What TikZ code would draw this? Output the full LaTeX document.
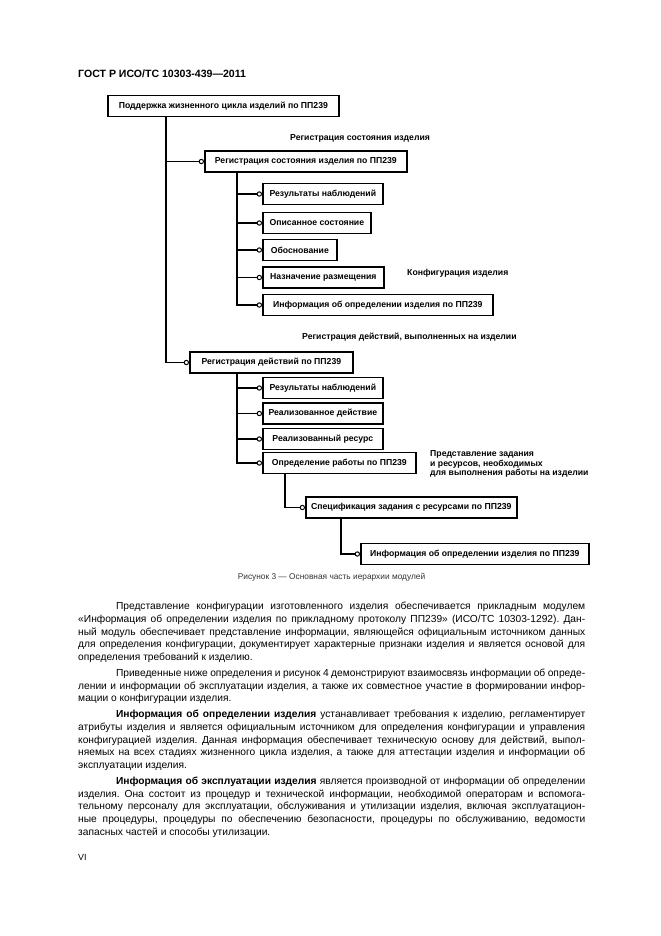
\documentclass[tikz,border=0pt]{standalone}
\usepackage{fontspec}
\setmainfont{Liberation Sans}
\usetikzlibrary{arrows.meta}
\frenchspacing

\begin{document}
\begin{tikzpicture}[x=0.9pt,y=-0.9pt,
box/.style={draw,line width=1.5pt,anchor=west,minimum height=18.9pt,inner sep=1pt,font=\fontsize{7.8}{9}\selectfont\bfseries},
link/.style={line width=1.1pt,-{Circle[open,length=4.8pt,line width=0.9pt]}},
note/.style={anchor=west,inner sep=0pt,align=left,font=\fontsize{7.8}{8.2}\selectfont\bfseries},
para/.style={anchor=base west,inner sep=0pt,text width=456.3pt,align=justify,font=\fontsize{9.2}{11.5}\selectfont}
]
\useasboundingbox (0,0) rectangle (661,936);

\node[anchor=west,inner sep=0pt,font=\fontsize{9.5}{11}\selectfont\bfseries] (head) at (78,74) {ГОСТ Р ИСО/ТС 10303-439—2011};

\node[box,minimum width=207.9pt] (root) at (107,106) {Поддержка жизненного цикла изделий по ПП239};
\node[note] (lrs) at (290,138) {Регистрация состояния изделия};
\node[box,minimum width=181.8pt] (rs) at (204,161.5) {Регистрация состояния изделия по ПП239};
\node[box,minimum width=108pt] (rs1) at (262,194) {Результаты наблюдений};
\node[box,minimum width=97.2pt] (rs2) at (262,223) {Описанное состояние};
\node[box,minimum width=66.6pt] (rs3) at (262,250) {Обоснование};
\node[box,minimum width=108.9pt] (rs4) at (262,277.5) {Назначение размещения};
\node[note] (lconf) at (407,273) {Конфигурация изделия};
\node[box,minimum width=207pt] (rs5) at (262,305) {Информация об определении изделия по ПП239};
\node[note] (lra) at (302,337) {Регистрация действий, выполненных на изделии};
\node[box,minimum width=146.7pt] (ra) at (189,362.5) {Регистрация действий по ПП239};
\node[box,minimum width=108pt] (ra1) at (262,388) {Результаты наблюдений};
\node[box,minimum width=108pt] (ra2) at (262,413.5) {Реализованное действие};
\node[box,minimum width=108pt] (ra3) at (262,439) {Реализованный ресурс};
\node[box,minimum width=137.7pt] (ra4) at (262,463) {Определение работы по ПП239};
\node[note] (lwork) at (430,464) {Представление задания\\и ресурсов, необходимых\\для выполнения работы на изделии};
\node[box,minimum width=189.9pt] (sp) at (305,507.5) {Спецификация задания с ресурсами по ПП239};
\node[box,minimum width=205.2pt] (inf) at (360,554) {Информация об определении изделия по ПП239};

\coordinate (t0) at (166,0);
\coordinate (t1) at (237,0);
\coordinate (t2) at (285,0);
\coordinate (t3) at (341,0);

\draw[link] (root.south -| t0) |- (rs.west);
\draw[link] (root.south -| t0) |- (ra.west);
\foreach \n in {rs1,rs2,rs3,rs4,rs5}
  \draw[link] (rs.south -| t1) |- (\n.west);
\foreach \n in {ra1,ra2,ra3,ra4}
  \draw[link] (ra.south -| t1) |- (\n.west);
\draw[link] (ra4.south -| t2) |- (sp.west);
\draw[link] (sp.south -| t3) |- (inf.west);

\node[inner sep=0pt,text=black!80,font=\fontsize{7.5}{9}\selectfont] (cap) at (331.5,577) {Рисунок 3 — Основная часть иерархии модулей};

\node[para] (p1) at (78,609.5) {\hspace*{34pt}Представление конфигурации изготовленного изделия обеспечивается прикладным модулем\linebreak
«Информация об определении изделия по прикладному протоколу ПП239» (ИСО/ТС 10303-1292). Дан-\linebreak
ный модуль обеспечивает представление информации, являющейся официальным источником данных\linebreak
для определения конфигурации, документирует характерные признаки изделия и является основой для\linebreak
определения требований к изделию.};
\node[para] (p2) at (78,676.3) {\hspace*{34pt}Приведенные ниже определения и рисунок 4 демонстрируют взаимосвязь информации об опреде-\linebreak
лении и информации об эксплуатации изделия, а также их совместное участие в формировании инфор-\linebreak
мации о конфигурации изделия.};
\node[para] (p3) at (78,717.5) {\hspace*{34pt}{\bfseries Информация об определении изделия} устанавливает требования к изделию, регламентирует\linebreak
атрибуты изделия и является официальным источником для определения конфигурации и управления\linebreak
конфигурацией изделия. Данная информация обеспечивает техническую основу для действий, выпол-\linebreak
няемых на всех стадиях жизненного цикла изделия, а также для аттестации изделия и информации об\linebreak
эксплуатации изделия.};
\node[para] (p4) at (78,784.3) {\hspace*{34pt}{\bfseries Информация об эксплуатации изделия} является производной от информации об определении\linebreak
изделия. Она состоит из процедур и технической информации, необходимой операторам и вспомога-\linebreak
тельному персоналу для эксплуатации, обслуживания и утилизации изделия, включая эксплуатацион-\linebreak
ные процедуры, процедуры по обеспечению безопасности, процедуры по обслуживанию, ведомости\linebreak
запасных частей и способы утилизации.};

\node[anchor=west,inner sep=0pt,font=\fontsize{8}{9}\selectfont] (pg) at (78,857) {VI};
\end{tikzpicture}
\end{document}
